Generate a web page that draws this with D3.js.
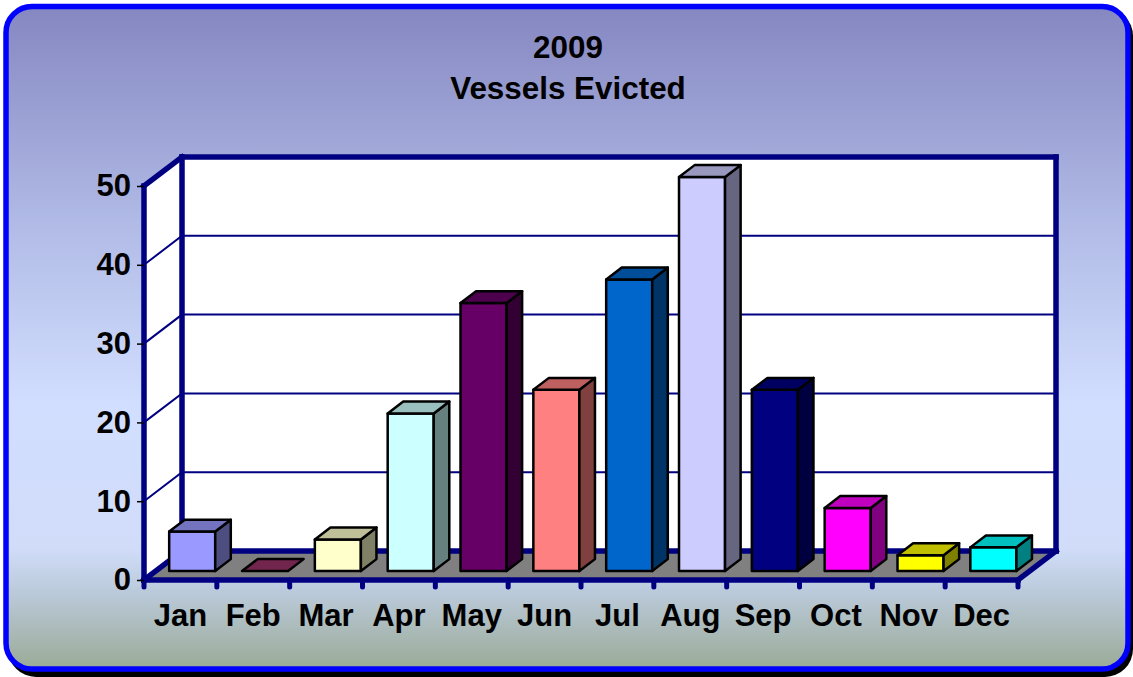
<!DOCTYPE html>
<html>
<head>
<meta charset="utf-8">
<script src="https://cdn.jsdelivr.net/npm/d3@7"></script>
<style>
  html, body { margin: 0; padding: 0; background: #fff; overflow: hidden; }
  text { font-family: "Liberation Sans", Arial, sans-serif; font-weight: bold; fill: #000; }
</style>
</head>
<body>
<div id="chart"></div>
<script>
const months = ['Jan', 'Feb', 'Mar', 'Apr', 'May', 'Jun', 'Jul', 'Aug', 'Sep', 'Oct', 'Nov', 'Dec'];
const evicted = [5, 0, 4, 20, 34, 23, 37, 50, 23, 8, 2, 3];
const barColors = ['#9999ff', '#993366', '#ffffcc', '#ccffff', '#660066', '#ff8080',
  '#0066cc', '#ccccff', '#000080', '#ff00ff', '#ffff00', '#00ffff'];
const yTicks = [0, 10, 20, 30, 40, 50];
const titleLines = ['2009', 'Vessels Evicted'];

const width = 1133, height = 677;
const navy = '#000080';

// 3d look: back wall sits up and to the right of the front plane
const depth = { dx: 38, dy: -29 };
const barDepth = { front: 0.31, back: 0.72 };

const svg = d3.select('#chart').append('svg')
  .attr('width', width)
  .attr('height', height)
  .style('display', 'block');

const grad = svg.append('defs').append('linearGradient')
  .attr('id', 'bg')
  .attr('x1', 0).attr('x2', 0).attr('y1', 0).attr('y2', 1);
[[0, '#8587c1'], [0.33, '#b1bbe6'], [0.6, '#d2deff'], [0.82, '#d0dcf8'], [0.88, '#bccbdc'], [1, '#9aaa96']]
  .forEach(([o, c]) => grad.append('stop').attr('offset', o).attr('stop-color', c));

// frame with drop shadow
svg.append('rect')
  .attr('x', 8).attr('y', 8).attr('width', 1125).attr('height', 669)
  .attr('rx', 28).attr('fill', '#000');
svg.append('rect')
  .attr('x', 6).attr('y', 6.5).attr('width', 1122).attr('height', 662.5)
  .attr('rx', 26).attr('fill', 'url(#bg)')
  .attr('stroke', '#0000ff').attr('stroke-width', 5.5);

svg.selectAll('.title')
  .data(titleLines)
  .enter()
  .append('text')
  .attr('class', 'title')
  .attr('x', 568)
  .attr('y', (d, i) => 58 + i * 41)
  .attr('text-anchor', 'middle')
  .attr('font-size', 31.4)
  .text(d => d);

const xScale = d3.scaleBand().domain(months).range([144, 1018]);
const yScale = d3.scaleLinear().domain([0, 50]).range([580, 186]);

const x0 = xScale.range()[0], x1 = xScale.range()[1];
const y0 = yScale(0), yTop = yScale(50);

const poly = pts => pts.map(p => p.join(',')).join(' ');

// walls
svg.append('polygon')
  .attr('points', poly([[x0, yTop], [x0 + depth.dx, yTop + depth.dy], [x1 + depth.dx, yTop + depth.dy],
    [x1 + depth.dx, y0 + depth.dy], [x0 + depth.dx, y0 + depth.dy], [x0, y0]]))
  .attr('fill', '#fff');

// floor
svg.append('polygon')
  .attr('points', poly([[x0, y0], [x0 + depth.dx, y0 + depth.dy], [x1 + depth.dx, y0 + depth.dy], [x1, y0]]))
  .attr('fill', '#808080');

// gridlines, side wall then back wall
yTicks.filter(d => d > 0 && d < 50).forEach(d => {
  svg.append('polyline')
    .attr('points', poly([[x0, yScale(d)], [x0 + depth.dx, yScale(d) + depth.dy], [x1 + depth.dx, yScale(d) + depth.dy]]))
    .attr('fill', 'none')
    .attr('stroke', navy)
    .attr('stroke-width', 2);
});

// heavy edges of the box
const edges = [
  [[x0 + depth.dx, yTop + depth.dy], [x1 + depth.dx, yTop + depth.dy]],
  [[x0 + depth.dx, yTop + depth.dy], [x0 + depth.dx, y0 + depth.dy]],
  [[x1 + depth.dx, yTop + depth.dy], [x1 + depth.dx, y0 + depth.dy]],
  [[x0 + depth.dx, y0 + depth.dy], [x1 + depth.dx, y0 + depth.dy]],
  [[x0, yTop], [x0 + depth.dx, yTop + depth.dy]],
  [[x0, y0], [x0 + depth.dx, y0 + depth.dy]],
  [[x1, y0], [x1 + depth.dx, y0 + depth.dy]],
  [[x0, yTop], [x0, y0]],
  [[x0, y0], [x1, y0]]
];
edges.forEach(e => {
  svg.append('line')
    .attr('x1', e[0][0]).attr('y1', e[0][1])
    .attr('x2', e[1][0]).attr('y2', e[1][1])
    .attr('stroke', navy)
    .attr('stroke-width', 5.5)
    .attr('stroke-linecap', 'square');
});

// month separators under the floor edge
months.concat('end').forEach(m => {
  const tx = m === 'end' ? x1 : xScale(m);
  svg.append('line')
    .attr('x1', tx).attr('x2', tx)
    .attr('y1', y0).attr('y2', y0 + 7)
    .attr('stroke', navy)
    .attr('stroke-width', 5)
    .attr('stroke-linecap', 'round');
});

// bars
const barW = xScale.bandwidth() * 0.632;
const barPad = (xScale.bandwidth() - barW) / 2;

months.forEach((m, i) => {
  const left = xScale(m) + barPad + depth.dx * barDepth.front;
  const right = left + barW;
  const bottom = y0 + depth.dy * barDepth.front;
  const top = bottom - (y0 - yScale(evicted[i]));
  const ddx = depth.dx * (barDepth.back - barDepth.front);
  const ddy = depth.dy * (barDepth.back - barDepth.front);
  const color = d3.color(barColors[i]);
  const mix = k => d3.rgb(color.r * k, color.g * k, color.b * k).formatHex();

  const g = svg.append('g')
    .attr('stroke', '#000')
    .attr('stroke-width', 2.5)
    .attr('stroke-linejoin', 'round');

  if (evicted[i] > 0) {
    g.append('rect')
      .attr('x', left).attr('y', top)
      .attr('width', barW).attr('height', bottom - top)
      .attr('fill', barColors[i]);
    g.append('polygon')
      .attr('points', poly([[right, top], [right + ddx, top + ddy], [right + ddx, bottom + ddy], [right, bottom]]))
      .attr('fill', mix(0.5));
  }
  g.append('polygon')
    .attr('points', poly([[left, top], [left + ddx, top + ddy], [right + ddx, top + ddy], [right, top]]))
    .attr('fill', mix(0.75));
});

// axes
const xAxis = svg.append('g')
  .attr('transform', `translate(0,${y0})`)
  .call(d3.axisBottom(xScale).tickSize(0).tickPadding(24));
xAxis.select('.domain').remove();
xAxis.selectAll('text').attr('font-size', 31).attr('font-family', '"Liberation Sans", Arial, sans-serif');

const yAxis = svg.append('g')
  .attr('transform', `translate(${x0},0)`)
  .call(d3.axisLeft(yScale).tickValues(yTicks).tickSize(7).tickSizeOuter(0).tickPadding(6));
yAxis.select('.domain').remove();
yAxis.selectAll('line').attr('stroke', '#000').attr('stroke-width', 1.5);
yAxis.selectAll('text').attr('font-size', 31).attr('font-family', '"Liberation Sans", Arial, sans-serif');
</script>
</body>
</html>
